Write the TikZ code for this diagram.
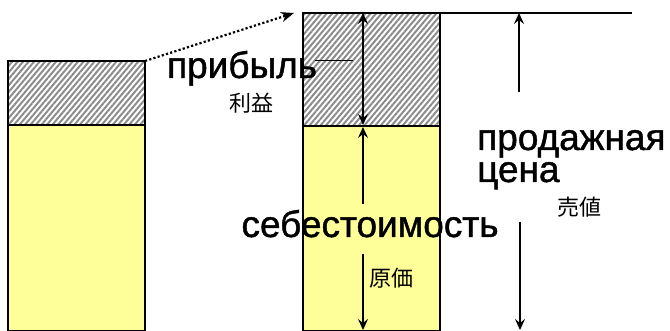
\documentclass[tikz,border=0pt]{standalone}
\usepackage{fontspec}
\setmainfont{Liberation Sans}
\newfontfamily\heavy[FakeBold=1.2]{Liberation Sans}
\newfontfamily\jp{Noto Sans CJK JP}
\usetikzlibrary{patterns.meta,arrows.meta}
\definecolor{barfill}{HTML}{FFFF99}
\tikzset{
  hatch/.style={pattern={Lines[angle=50,distance=4.2pt,line width=2pt]},pattern color=black!45},
  barline/.style={draw=black,line width=1.8pt},
  arr/.style={line width=1.5pt,-{Stealth[length=11pt,width=10pt,inset=4pt]}},
  darr/.style={line width=1.5pt,{Stealth[length=11pt,width=10pt,inset=4pt]}-{Stealth[length=11pt,width=10pt,inset=4pt]}},
  big/.style={font=\heavy\fontsize{37}{32}\selectfont,inner sep=0pt},
  small/.style={font=\jp\fontsize{22}{24}\selectfont,inner sep=0pt}
}
\begin{document}
\begin{tikzpicture}[x=1pt,y=-1pt]
\useasboundingbox (0,0) rectangle (670,331);
\clip (0,0) rectangle (670,331);
% left bar
\fill[barfill] (8,125) rectangle (145,331);
\fill[white] (8,61) rectangle (145,125);
\fill[hatch] (8,61) rectangle (145,125);
\draw[barline] (8,61) rectangle (145,331);
\draw[barline] (8,125) -- (145,125);
\coordinate (lt) at (145,61);
% right bar
\fill[barfill] (303,126) rectangle (440,331);
\fill[white] (303,13) rectangle (440,126);
\fill[hatch] (303,13) rectangle (440,126);
\draw[barline] (303,13) rectangle (440,331);
\draw[barline] (303,126) -- (440,126);
% top line
\coordinate (tl) at (303,13);
\coordinate (tr) at (632,13);
\draw[line width=1.5pt] (tl) -- (tr);
% dotted arrow
\coordinate (dt) at (294,13);
\draw[line width=2.2pt,dash pattern=on 2.2pt off 2.2pt,-{Stealth[length=13pt,width=10pt,inset=4pt]}] (lt) -- (dt);
% inner arrows
\coordinate (a1) at (363,13);
\coordinate (a2) at (363,125);
\coordinate (a3) at (363,127);
\coordinate (a4) at (363,204);
\coordinate (a5) at (363,254);
\coordinate (a6) at (363,330);
\draw[darr] (a1) -- (a2);
\draw[arr] (a4) -- (a3);
\draw[arr] (a5) -- (a6);
% right arrows
\coordinate (b1) at (519,13);
\coordinate (b2) at (519,92);
\coordinate (b3) at (520,222);
\coordinate (b4) at (520,330);
\draw[arr] (b2) -- (b1);
\draw[arr] (b3) -- (b4);
% leader
\coordinate (l1) at (315,61);
\coordinate (l2) at (353,61);
\draw[line width=1pt] (l1) -- (l2);
% texts
\node[big,anchor=base] (prib) at (242,78) {прибыль};
\node[small] (rieki) at (251,103) {利益};
\node[big,anchor=base west,align=left] (prod) at (477,182) {продажная\\цена};
\node[small] (urine) at (579,207) {売値};
\node[big,anchor=base] (sebe) at (370,237) {себестоимость};
\node[small] (genka) at (391,278) {原価};
\end{tikzpicture}
\end{document}
